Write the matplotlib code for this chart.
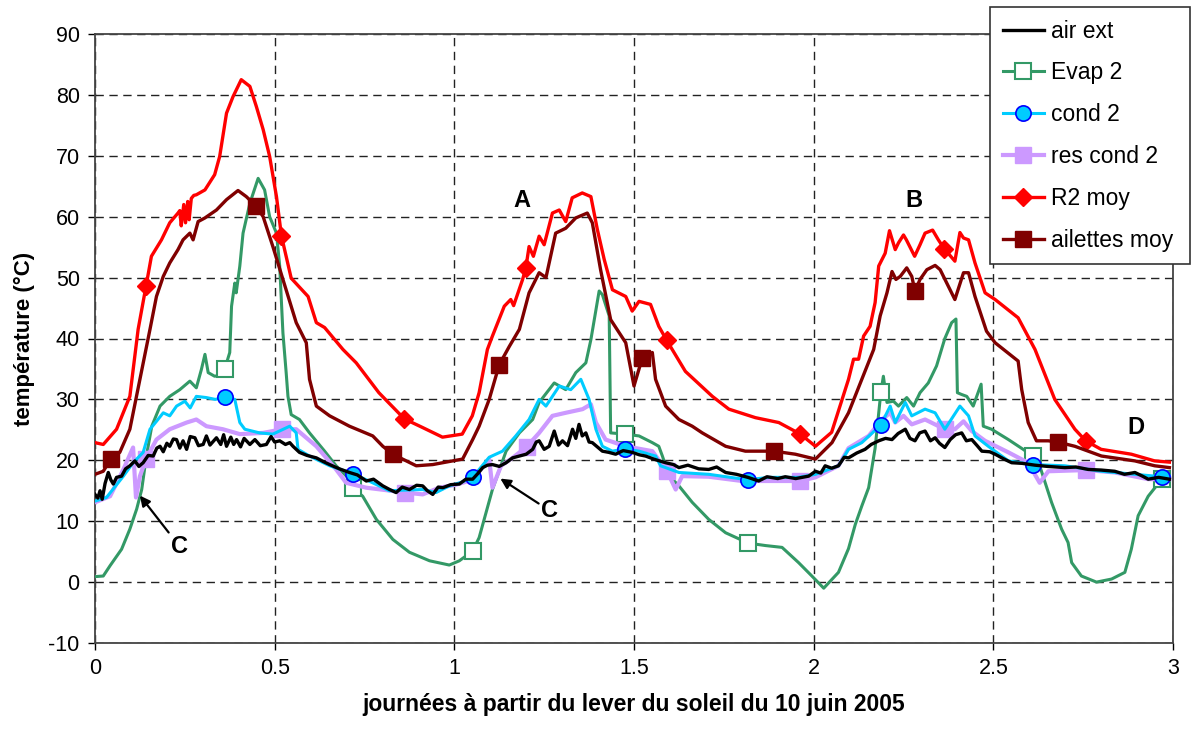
import numpy as np
import matplotlib
matplotlib.use("Agg")
import matplotlib.pyplot as plt

plt.rcParams['font.family'] = ['Liberation Sans', 'DejaVu Sans']
plt.rcParams['axes.unicode_minus'] = False

# --- températures relevées (jours depuis le lever du soleil, °C) ---
air_x = [0, 0.008, 0.014, 0.02, 0.028, 0.037, 0.044, 0.051, 0.06, 0.074, 0.085, 0.097,
         0.111, 0.122, 0.134, 0.148, 0.162, 0.172, 0.181, 0.19, 0.2, 0.208, 0.218, 0.227,
         0.236, 0.245, 0.255, 0.265, 0.278, 0.288, 0.301, 0.31, 0.32, 0.338, 0.35, 0.358,
         0.366, 0.378, 0.386, 0.394, 0.405, 0.415, 0.431, 0.445, 0.46, 0.477, 0.49, 0.5,
         0.514, 0.53, 0.542, 0.551, 0.569, 0.59, 0.616, 0.635, 0.653, 0.68, 0.708, 0.73,
         0.755, 0.775, 0.801, 0.82, 0.838, 0.855, 0.875, 0.895, 0.912, 0.925, 0.94, 0.955,
         0.968, 0.99, 1.014, 1.032, 1.051, 1.065, 1.079, 1.092, 1.106, 1.125, 1.144, 1.162,
         1.181, 1.2, 1.218, 1.228, 1.236, 1.25, 1.264, 1.278, 1.29, 1.301, 1.315, 1.329,
         1.338, 1.347, 1.356, 1.366, 1.375, 1.384, 1.398, 1.412, 1.43, 1.449, 1.47, 1.495,
         1.515, 1.532, 1.56, 1.588, 1.61, 1.625, 1.65, 1.68, 1.708, 1.73, 1.755, 1.785,
         1.817, 1.847, 1.87, 1.9, 1.921, 1.95, 1.986, 2.005, 2.02, 2.032, 2.05, 2.069,
         2.085, 2.097, 2.12, 2.143, 2.16, 2.181, 2.2, 2.218, 2.235, 2.255, 2.268, 2.282,
         2.295, 2.31, 2.325, 2.338, 2.35, 2.365, 2.38, 2.395, 2.412, 2.425, 2.44, 2.455,
         2.468, 2.49, 2.505, 2.53, 2.551, 2.58, 2.616, 2.65, 2.699, 2.73, 2.764, 2.8,
         2.838, 2.865, 2.894, 2.915, 2.931, 2.96, 2.99]
air_y = [14.4, 13.8, 15.0, 13.6, 16.2, 18.0, 16.8, 16.1, 17.2, 17.4, 18.6, 19.1,
         19.9, 19.0, 19.6, 20.8, 20.7, 22.0, 22.3, 21.4, 22.8, 22.3, 23.5, 23.4,
         22.0, 23.2, 21.8, 23.9, 23.7, 22.4, 22.6, 24.0, 22.5, 23.7, 22.6, 24.2,
         22.3, 23.8, 22.6, 23.4, 22.2, 23.6, 22.6, 23.4, 22.4, 22.6, 23.9, 23.0,
         23.2, 22.6, 22.9, 22.3, 21.3, 20.8, 20.4, 19.8, 19.3, 18.6, 18.0, 17.6,
         16.6, 16.9, 15.8, 15.2, 14.7, 15.6, 15.2, 15.9, 15.8, 15.0, 14.4, 15.6,
         15.5, 16.0, 16.1, 16.9, 16.9, 17.8, 18.8, 19.2, 19.3, 19.0, 19.6, 20.4,
         20.7, 21.0, 21.8, 23.0, 23.2, 21.8, 22.3, 24.8, 22.5, 23.2, 22.4, 25.1,
         23.6, 25.9, 24.0, 24.5, 23.0, 22.9, 22.2, 21.5, 21.3, 21.0, 21.6, 21.3,
         20.9, 20.7, 20.1, 19.6, 19.3, 18.8, 19.2, 18.6, 18.5, 18.9, 18.0, 17.7,
         17.2, 16.6, 17.3, 17.0, 17.3, 17.0, 17.4, 18.2, 17.9, 19.1, 18.7, 19.1,
         20.5, 20.4, 21.2, 21.8, 22.6, 23.2, 23.6, 23.4, 24.4, 25.1, 23.6, 23.2,
         24.5, 24.8, 23.2, 23.7, 22.8, 22.1, 23.4, 24.2, 24.5, 23.2, 23.4, 22.4,
         21.5, 21.4, 21.0, 20.2, 19.6, 19.5, 19.2, 19.0, 18.8, 18.9, 18.5, 18.4,
         18.2, 17.7, 18.0, 17.4, 16.9, 17.2, 16.9]

evap_x = [0, 0.023, 0.042, 0.074, 0.097, 0.116, 0.13, 0.143, 0.158, 0.181, 0.208, 0.236,
          0.264, 0.282, 0.296, 0.306, 0.315, 0.333, 0.35, 0.361, 0.375, 0.38, 0.389, 0.393,
          0.403, 0.412, 0.431, 0.454, 0.472, 0.486, 0.505, 0.514, 0.523, 0.532, 0.537, 0.546,
          0.569, 0.597, 0.639, 0.671, 0.708, 0.718, 0.745, 0.783, 0.829, 0.875, 0.931, 0.986,
          1.014, 1.051, 1.069, 1.106, 1.144, 1.181, 1.218, 1.236, 1.278, 1.31, 1.338, 1.366,
          1.38, 1.403, 1.412, 1.431, 1.435, 1.474, 1.514, 1.551, 1.569, 1.579, 1.597, 1.625,
          1.662, 1.708, 1.755, 1.818, 1.866, 1.912, 1.958, 1.995, 2.028, 2.069, 2.097, 2.116,
          2.134, 2.153, 2.171, 2.187, 2.194, 2.204, 2.222, 2.236, 2.259, 2.278, 2.296, 2.319,
          2.342, 2.365, 2.384, 2.396, 2.4, 2.412, 2.426, 2.444, 2.466, 2.472, 2.495, 2.542,
          2.583, 2.609, 2.629, 2.662, 2.69, 2.708, 2.718, 2.745, 2.787, 2.829, 2.866, 2.884,
          2.903, 2.931, 2.97, 2.99]
evap_y = [0.9, 1.0, 2.7, 5.4, 8.7, 12.0, 15.2, 20.7, 25.6, 28.9, 30.5, 31.6,
          33.0, 31.9, 34.9, 37.4, 34.4, 33.8, 34.0, 35.0, 37.7, 45.3, 49.1, 47.5,
          51.9, 57.3, 62.2, 66.3, 64.4, 60.0, 57.3, 51.9, 40.9, 34.4, 30.5, 27.5,
          26.7, 24.5, 21.5, 19.1, 16.9, 15.5, 14.1, 10.3, 7.0, 4.9, 3.5, 2.8,
          3.5, 5.1, 7.3, 15.2, 21.5, 24.5, 26.7, 29.5, 32.7, 31.6, 34.4, 36.0,
          39.8, 47.8, 47.2, 43.7, 24.5, 24.3, 24.0, 22.9, 22.3, 20.7, 17.5, 15.8,
          13.1, 10.3, 8.1, 6.4, 6.0, 5.7, 3.2, 1.0, -1.0, 1.6, 5.5, 9.5,
          12.5, 15.5, 22.0, 31.2, 33.8, 29.5, 29.7, 28.9, 30.3, 28.9, 31.1, 32.7,
          35.5, 40.0, 42.6, 43.2, 31.1, 30.8, 30.5, 28.9, 32.5, 25.6, 25.1, 23.4,
          21.8, 20.7, 19.1, 13.1, 8.7, 6.5, 3.2, 1.0, 0.0, 0.5, 1.6, 5.4,
          10.9, 14.1, 17.0, 17.4]

cond_x = [0, 0.032, 0.079, 0.106, 0.134, 0.153, 0.171, 0.19, 0.208, 0.227, 0.25, 0.265,
          0.282, 0.31, 0.335, 0.361, 0.389, 0.403, 0.417, 0.458, 0.495, 0.542, 0.56, 0.565,
          0.597, 0.653, 0.718, 0.773, 0.819, 0.86, 0.912, 0.949, 0.986, 1.02, 1.051, 1.097,
          1.134, 1.171, 1.208, 1.236, 1.255, 1.292, 1.324, 1.352, 1.375, 1.394, 1.412, 1.44,
          1.475, 1.514, 1.56, 1.574, 1.625, 1.708, 1.817, 1.875, 1.958, 2.005, 2.069, 2.097,
          2.134, 2.187, 2.213, 2.227, 2.255, 2.273, 2.31, 2.338, 2.365, 2.407, 2.431, 2.449,
          2.486, 2.542, 2.609, 2.699, 2.801, 2.894, 2.968, 2.99]
cond_y = [13.3, 13.9, 17.4, 19.6, 21.3, 25.1, 26.4, 27.8, 27.3, 28.9, 29.7, 28.6,
          30.5, 30.3, 30.0, 30.4, 30.0, 26.2, 25.1, 24.5, 24.3, 25.6, 24.5, 21.8,
          20.7, 19.1, 17.8, 16.3, 15.0, 15.1, 15.2, 14.7, 15.8, 16.4, 17.2, 20.5,
          21.5, 24.0, 26.7, 30.0, 28.9, 32.2, 31.6, 33.3, 30.0, 25.1, 22.3, 21.5,
          21.9, 21.5, 20.7, 19.1, 18.0, 17.7, 16.8, 17.2, 17.2, 17.7, 19.1, 21.8,
          22.9, 25.8, 28.9, 26.2, 29.5, 27.3, 28.4, 27.8, 25.1, 28.9, 27.3, 24.0,
          22.3, 19.9, 19.3, 19.1, 18.2, 17.7, 17.3, 17.4]

res_x = [0, 0.042, 0.079, 0.106, 0.114, 0.125, 0.142, 0.171, 0.208, 0.255, 0.282, 0.31,
         0.356, 0.403, 0.468, 0.521, 0.56, 0.616, 0.671, 0.699, 0.755, 0.864, 0.912, 0.958,
         1.005, 1.051, 1.097, 1.106, 1.13, 1.162, 1.201, 1.236, 1.273, 1.31, 1.357, 1.38,
         1.394, 1.421, 1.477, 1.551, 1.592, 1.616, 1.634, 1.708, 1.801, 1.894, 1.961, 2.005,
         2.069, 2.097, 2.153, 2.19, 2.213, 2.227, 2.25, 2.273, 2.31, 2.365, 2.393, 2.417,
         2.44, 2.477, 2.542, 2.597, 2.629, 2.653, 2.759, 2.838, 2.931, 2.99]
res_y = [13.1, 14.1, 18.5, 22.1, 13.9, 17.4, 20.2, 23.4, 25.1, 26.2, 26.7, 25.6,
         25.1, 24.3, 24.5, 25.1, 25.1, 22.3, 18.5, 16.3, 15.5, 14.7, 14.4, 15.5,
         16.0, 16.8, 20.2, 15.5, 19.1, 20.4, 22.2, 24.5, 27.3, 27.8, 28.4, 29.2,
         26.2, 23.4, 22.3, 21.5, 18.2, 15.2, 17.4, 17.3, 16.6, 16.6, 16.6, 17.2,
         19.1, 22.0, 24.0, 26.7, 27.8, 26.2, 27.3, 25.9, 26.7, 25.1, 25.1, 26.4,
         24.8, 23.2, 21.3, 19.6, 16.3, 18.2, 18.4, 18.0, 16.9, 16.9]

r2_x = [0, 0.023, 0.06, 0.097, 0.12, 0.142, 0.157, 0.185, 0.208, 0.231, 0.236, 0.24,
        0.247, 0.252, 0.258, 0.262, 0.268, 0.275, 0.282, 0.306, 0.333, 0.347, 0.366, 0.384,
        0.407, 0.431, 0.449, 0.468, 0.486, 0.505, 0.519, 0.546, 0.593, 0.616, 0.639, 0.69,
        0.727, 0.79, 0.861, 0.911, 0.967, 1.022, 1.05, 1.069, 1.092, 1.106, 1.139, 1.157,
        1.165, 1.19, 1.199, 1.208, 1.22, 1.236, 1.25, 1.273, 1.292, 1.31, 1.328, 1.356,
        1.38, 1.398, 1.417, 1.44, 1.477, 1.495, 1.514, 1.546, 1.569, 1.591, 1.643, 1.718,
        1.764, 1.838, 1.903, 1.963, 2.005, 2.05, 2.097, 2.111, 2.125, 2.139, 2.157, 2.171,
        2.181, 2.199, 2.211, 2.227, 2.236, 2.25, 2.258, 2.281, 2.296, 2.31, 2.331, 2.347,
        2.364, 2.393, 2.407, 2.417, 2.431, 2.449, 2.477, 2.505, 2.569, 2.616, 2.671, 2.727,
        2.757, 2.8, 2.884, 2.949, 2.99]
r2_y = [22.9, 22.6, 25.1, 30.5, 41.5, 48.6, 53.5, 56.2, 59.0, 60.6, 61.0, 58.5,
        62.0, 59.0, 62.5, 59.5, 63.0, 63.5, 63.6, 64.4, 66.9, 69.9, 77.0, 79.7,
        82.5, 81.4, 78.1, 74.3, 69.9, 63.3, 56.8, 49.9, 46.9, 42.6, 41.8, 38.2,
        36.0, 31.1, 26.8, 25.4, 23.8, 24.3, 27.3, 31.1, 38.2, 40.4, 45.3, 46.4,
        45.4, 49.7, 51.6, 55.1, 53.5, 56.8, 55.4, 60.6, 61.1, 59.2, 63.1, 63.9,
        63.3, 57.9, 53.0, 48.0, 46.9, 44.5, 46.1, 45.6, 42.0, 39.7, 34.6, 30.5,
        28.4, 27.0, 26.2, 24.3, 22.3, 24.6, 33.3, 36.6, 36.6, 40.4, 42.0, 45.9,
        51.9, 54.0, 57.7, 54.6, 55.7, 57.0, 56.2, 53.5, 55.4, 57.3, 57.8, 56.2,
        54.7, 52.7, 57.4, 56.5, 56.2, 52.4, 47.5, 46.4, 43.4, 38.2, 30.0, 25.1,
        23.2, 21.8, 21.0, 19.9, 19.7]

ail_x = [0, 0.023, 0.044, 0.069, 0.097, 0.125, 0.153, 0.171, 0.19, 0.208, 0.231, 0.245,
         0.264, 0.273, 0.287, 0.306, 0.338, 0.366, 0.398, 0.421, 0.449, 0.468, 0.495, 0.523,
         0.56, 0.588, 0.597, 0.616, 0.653, 0.708, 0.773, 0.801, 0.829, 0.856, 0.894, 0.94,
         0.995, 1.023, 1.051, 1.069, 1.097, 1.125, 1.153, 1.181, 1.208, 1.236, 1.255, 1.282,
         1.31, 1.338, 1.37, 1.384, 1.407, 1.435, 1.477, 1.5, 1.523, 1.551, 1.56, 1.588,
         1.625, 1.662, 1.69, 1.755, 1.81, 1.889, 1.949, 2.005, 2.051, 2.097, 2.134, 2.167,
         2.185, 2.204, 2.218, 2.229, 2.241, 2.259, 2.273, 2.282, 2.296, 2.315, 2.338, 2.352,
         2.393, 2.417, 2.431, 2.449, 2.481, 2.505, 2.569, 2.579, 2.597, 2.62, 2.653, 2.679,
         2.727, 2.801, 2.894, 2.949, 2.99]
ail_y = [17.7, 18.2, 20.2, 21.3, 25.1, 33.3, 41.5, 46.9, 50.2, 52.4, 54.6, 56.2,
         57.3, 56.2, 59.2, 59.8, 61.1, 62.8, 64.3, 63.3, 61.7, 60.0, 55.1, 49.7,
         42.6, 39.3, 33.3, 28.9, 27.3, 25.6, 24.0, 22.3, 21.0, 20.2, 19.1, 19.3,
         19.9, 20.2, 23.4, 25.6, 30.0, 35.7, 38.7, 41.5, 47.5, 50.8, 50.0, 57.3,
         58.1, 59.8, 60.6, 59.0, 51.3, 43.1, 39.3, 32.2, 36.8, 37.7, 33.3, 28.9,
         26.7, 25.6, 24.5, 22.3, 21.5, 21.5, 21.0, 20.2, 22.9, 27.8, 33.3, 38.2,
         43.7, 47.5, 51.0, 49.7, 50.2, 51.6, 50.2, 47.8, 49.7, 51.3, 52.0, 51.3,
         46.4, 50.8, 50.8, 46.9, 41.2, 39.3, 36.3, 31.6, 26.2, 23.2, 23.2, 23.0,
         22.3, 20.7, 19.9, 19.1, 18.8]

# abscisses où Excel pose un marqueur sur chaque série
evap_mk = [0.361, 0.718, 1.051, 1.474, 1.818, 2.187, 2.609, 2.97]
cond_mk = [0.361, 0.718, 1.051, 1.475, 1.817, 2.187, 2.609, 2.968]
res_mk = [0.142, 0.521, 0.864, 1.201, 1.592, 1.961, 2.365, 2.759]
r2_mk = [0.142, 0.519, 0.861, 1.199, 1.591, 1.963, 2.364, 2.757]
ail_mk = [0.044, 0.449, 0.829, 1.125, 1.523, 1.889, 2.282, 2.679]

x_ticks = [0, 0.5, 1, 1.5, 2, 2.5, 3]
x_ticklabels = ['0', '0.5', '1', '1.5', '2', '2.5', '3']
y_ticks = list(range(-10, 91, 10))


def marks(xs, mk):
    return list(np.isin(np.round(xs, 3), np.round(mk, 3)))


fig = plt.figure(figsize=(11.91, 7.35), dpi=100)
ax = fig.add_axes([95 / 1191, 1 - 643 / 735, (1173 - 95) / 1191, (643 - 34) / 735])

ax.plot(evap_x, evap_y, color='#339966', lw=2.2, marker='s', ms=11, mfc='white',
        mec='#339966', mew=1.5, markevery=marks(evap_x, evap_mk), label='Evap 2', zorder=3)
ax.plot(res_x, res_y, color='#cc99ff', lw=3.0, marker='s', ms=12, mfc='#cc99ff',
        mec='#cc99ff', markevery=marks(res_x, res_mk), label='res cond 2', zorder=3)
ax.plot(cond_x, cond_y, color='#00ccff', lw=2.2, marker='o', ms=11, mfc='#00ccff',
        mec='#0000ff', mew=1.2, markevery=marks(cond_x, cond_mk), label='cond 2', zorder=4)
ax.plot(air_x, air_y, color='black', lw=2.4, label='air ext', zorder=4)
ax.plot(r2_x, r2_y, color='#ff0000', lw=2.4, marker='D', ms=9, mfc='#ff0000',
        mec='#ff0000', markevery=marks(r2_x, r2_mk), label='R2 moy', zorder=3)
ax.plot(ail_x, ail_y, color='#800000', lw=2.4, marker='s', ms=11, mfc='#800000',
        mec='#800000', markevery=marks(ail_x, ail_mk), label='ailettes moy', zorder=3)

ax.set_xlim(0, 3)
ax.set_ylim(-10, 90)
ax.set_xticks(x_ticks)
ax.set_xticklabels(x_ticklabels)
ax.set_yticks(y_ticks)
ax.tick_params(labelsize=15.5, direction='out', length=5, width=1, pad=6)
ax.grid(True, color='#222222', linestyle=(0, (6, 4)), linewidth=1)
ax.set_axisbelow(True)
for s in ax.spines.values():
    s.set_color('#444444')
    s.set_linewidth(1.3)

ax.set_xlabel('journées à partir du lever du soleil du 10 juin 2005',
              fontsize=16.5, fontweight='bold', labelpad=10)
ax.set_ylabel('température (°C)', fontsize=16, fontweight='bold', labelpad=10)

# repères A, B, C, D
bold = dict(fontsize=17, fontweight='bold', ha='center', va='center')
ax.text(1.189, 62.6, 'A', **bold)
ax.text(2.279, 62.6, 'B', **bold)
ax.text(2.898, 25.4, 'D', **bold)
arrow = dict(arrowstyle='-|>', color='black', lw=1.6, mutation_scale=15,
             shrinkA=0, shrinkB=0)
ax.annotate('C', xy=(0.125, 14.2), xytext=(0.236, 5.8), arrowprops=arrow,
            **bold)
ax.annotate('C', xy=(1.128, 17.0), xytext=(1.266, 11.7), arrowprops=arrow,
            **bold)

handles, labels = ax.get_legend_handles_labels()
order = ['air ext', 'Evap 2', 'cond 2', 'res cond 2', 'R2 moy', 'ailettes moy']
hl = dict(zip(labels, handles))
leg = ax.legend([hl[k] for k in order], order, loc='upper left',
                bbox_to_anchor=(990 / 1191, 1 - 259 / 735, 200 / 1191, 252 / 735),
                bbox_transform=fig.transFigure, mode='expand', fontsize=16.5,
                frameon=True, fancybox=False, edgecolor='#333333', framealpha=1,
                borderpad=0.55, labelspacing=0.82, handlelength=1.8, handletextpad=0.3,
                borderaxespad=0, numpoints=1)
leg.get_frame().set_linewidth(1.2)
leg.set_zorder(10)

fig.savefig('out.png', dpi=100)
